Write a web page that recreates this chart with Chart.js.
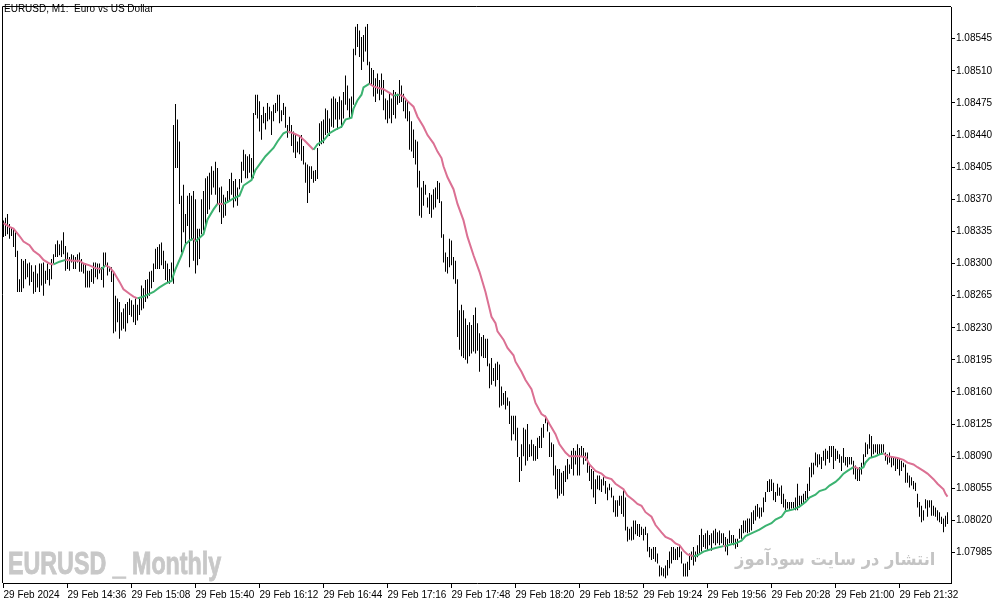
<!DOCTYPE html>
<html><head><meta charset="utf-8">
<script src="https://cdn.jsdelivr.net/npm/chart.js@4"></script>
<style>
html,body{margin:0;padding:0;background:#fff;overflow:hidden}
#wrap{position:relative;width:1003px;height:605px}
canvas{position:absolute;left:0;top:0}
.t{position:absolute;white-space:pre}
#title{left:4px;top:3px;font:10px "Liberation Sans",Arial,sans-serif;color:#000}
#wm1{left:8px;top:546px;font:bold 31px "Liberation Sans",Arial,sans-serif;color:#c8c8c8;-webkit-text-stroke:0.9px #c8c8c8;transform:scaleX(0.75);transform-origin:0 0}
#wm2{right:68px;top:549px;font:bold 17.5px "DejaVu Sans",sans-serif;color:#c4c4c4;transform:scaleX(0.93);transform-origin:100% 0}
</style></head>
<body><div id="wrap"><canvas id="c" width="1003" height="605"></canvas>
<div class="t" id="title">EURUSD, M1:  Euro vs US Dollar</div>
<div class="t" id="wm1">EURUSD _ Monthly</div>
<div class="t" id="wm2" dir="rtl">انتشار در سایت سودآموز</div>
</div>
<script>
// prices kept as points above 1.08000 (1 pt = 0.00001)
const base = 1.08

// M1 bars, one per minute from 14:04
const highPts = [
 347,350,354,343,339,338,334,314,283,305, 303,305,300,301,298,291,298,289,300,300,
 301,292,300,294,305,310,321,325,321,325, 334,319,312,307,310,309,307,310,312,305,
 300,300,292,292,294,301,301,300,300,296, 312,312,301,296,296,291,265,262,258,247,
 251,256,258,262,260,255,262,255,262,276, 273,282,283,291,292,300,316,318,321,323,
 314,303,300,294,301,451,474,457,433,374, 386,354,374,377,374,379,370,338,338,370,
 379,393,395,399,406,401,411,404,383,384, 375,372,379,392,399,390,392,383,392,411,
 424,419,417,419,415,464,484,484,477,462, 471,464,475,471,466,473,475,484,484,467,
 475,471,451,460,451,444,440,433,439,440, 428,410,408,406,406,401,402,426,453,455,
 457,469,467,458,480,482,480,476,482,478, 487,505,494,480,482,534,558,561,554,547,
 549,558,561,520,513,511,502,507,500,507, 500,480,478,485,480,489,487,485,500,494,
 485,478,478,466,455,446,435,433,401,383, 390,386,372,377,375,381,383,390,388,368,
 332,312,307,327,325,307,303,283,249,255, 249,240,233,236,233,244,252,235,224,220,
 222,218,218,191,197,186,191,193,190,166, 159,161,154,150,134,134,134,121,89,103,
 121,119,125,103,108,103,101,110,112,121, 125,134,130,116,105,103,80,76,76,72,
 74,80,87,81,96,99,96,103,99,101, 99,94,94,81,76,74,65,69,69,65,
 67,63,56,60,56,47,42,42,47,47, 53,45,13,11,13,20,20,16,16,13,
 11,13,6,-9,-11,-9,-9,-16,-29,-31, -32,-29,-23,-14,-9,-9,-11,-9,-7,-14,
 -27,-27,-25,-16,-14,-9,-14,-7,4,11, 4,6,9,4,6,9,11,7,9,6,
 6,2,0,9,4,4,0,0,11,15, 20,20,22,22,29,31,36,38,34,34,
 45,51,63,65,65,61,51,60,56,58, 49,43,40,40,40,40,45,60,47,47,
 49,52,60,78,83,83,94,92,92,89, 96,98,96,101,101,101,98,96,92,90,
 99,89,89,89,89,85,80,76,78,83, 92,105,103,114,112,103,103,103,103,103,
 103,94,92,94,89,89,89,87,87,85, 83,81,72,69,67,63,61,49,40,36,
 31,43,42,42,42,36,34,31,29,24, 22,25,29
]
const lowPts = [
 329,330,332,327,330,318,307,269,269,269, 273,283,285,276,280,267,269,274,269,276,
 265,278,282,276,283,300,307,307,309,307, 310,292,294,292,301,294,294,301,291,291,
 289,274,274,274,280,278,285,283,289,282, 274,298,287,291,280,224,226,236,218,227,
 229,226,235,244,242,236,233,238,244,249, 251,258,262,265,273,280,294,294,294,298,
 294,282,280,278,282,278,404,404,365,312, 334,321,341,296,325,303,289,298,305,332,
 336,339,354,359,375,383,375,365,356,343, 350,352,366,368,375,361,368,363,381,388,
 401,393,393,399,390,393,462,458,444,435, 453,446,455,457,440,455,464,466,453,455,
 462,448,437,442,428,421,415,421,419,412, 408,388,366,377,392,388,390,392,428,430,
 431,440,442,439,449,448,457,446,457,448, 458,473,467,458,462,473,527,536,525,511,
 520,531,516,496,494,482,476,485,478,484, 467,457,453,458,453,462,458,473,475,476,
 466,458,455,424,422,415,408,383,352,350, 363,375,361,354,350,359,361,370,366,328,
 301,291,289,296,298,283,278,220,206,199, 197,195,191,199,202,204,202,205,182,199,
 197,197,188,164,168,172,166,173,143,145, 146,141,145,125,107,114,107,89,62,74,
 90,80,85,89,90,85,85,87,99,99, 110,126,117,89,89,69,54,44,47,49,
 47,62,65,71,76,69,81,69,69,90, 81,85,72,63,54,45,38,54,53,51,
 58,49,42,53,45,29,24,24,36,27, 24,9,-3,-1,-2,-1,5,3,2,4,
 -2,4,-14,-20,-23,-22,-25,-27,-41,-40, -41,-43,-40,-32,-27,-23,-23,-23,-20,-27,
 -41,-41,-41,-34,-23,-29,-25,-20,-16,-14, -9,-11,-13,-7,-13,-5,-7,-5,-7,-5,
 -7,-14,-18,-5,-5,-7,-11,-9,0,0, 6,7,6,7,9,16,20,24,22,24,
 29,40,51,51,52,42,40,47,47,38, 34,31,33,31,33,33,31,31,34,36,
 38,42,43,52,67,70,80,78,81,76, 85,80,87,83,89,76,85,87,83,74,
 83,80,78,81,81,70,65,63,63,70, 78,89,92,98,89,92,94,92,92,92,
 94,85,81,83,78,80,74,76,69,74, 78,61,61,56,58,54,52,34,24,18,
 20,33,24,34,25,25,24,20,18,16, 7,13,16
]

// moving average: bar index and value
const maBar = [0,3,5,8,10,13,15,18,20,23,25,28,31,35,38,40,43,46,49,51,53,55,58,60,63,65,67,70,75,78,
 81,84,86,89,91,93,95,96,100,102,105,107,110,112,115,116,118,120,124,126,129,131,135,137,140,142,145,148,151,155,
 157,160,163,166,169,171,174,175,177,179,180,183,185,188,190,193,195,198,200,202,205,207,210,212,215,217,219,220,222,225,
 227,230,232,235,238,241,242,243,244,246,247,250,252,255,256,259,261,264,266,269,271,273,276,278,281,283,286,288,291,293,
 296,299,301,304,306,310,312,315,317,319,321,324,326,329,331,334,336,338,340,342,345,347,350,353,356,360,361,364,366,369,
 371,375,378,381,384,386,389,391,395,398,401,403,406,408,411,413,416,418,420,422,425,426,428,430,431,433,436,438,440,442,
 445,447,450,452,455,457,460,462,465,467,470,471,472]
const maPts = [344,340,338,330,324,320,314,309,304,300,299,302,304,303,303,300,298,295,294,298,296,291,280,272,267,264,262,264,269,274,
 278,281,294,309,321,325,327,324,332,348,359,365,365,367,371,372,374,385,391,402,411,417,426,433,442,444,442,439,433,424,
 430,434,442,446,449,457,459,469,478,484,492,496,493,491,490,486,483,484,482,477,471,460,449,440,431,422,415,406,394,381,
 365,347,329,309,291,269,260,251,242,235,226,217,208,200,193,182,173,163,148,136,133,125,114,103,94,90,90,90,89,81,
 74,71,67,65,60,54,47,42,38,36,29,24,15,7,2,-1,-5,-7,-13,-17,-19,-18,-14,-12,-10,-8,-8,-6,-5,-2,
 3,7,10,14,17,21,24,30,32,35,40,45,48,52,54,58,62,66,71,74,78,78,76,78,83,88,90,92,93,90,
 89,88,86,83,81,78,74,71,65,60,54,49,46]

const tickBar = [0,32,64,96,128,160,192,224,256,288,320,352,384,416,448]
const tickLabels = ['29 Feb 2024','29 Feb 14:36','29 Feb 15:08','29 Feb 15:40','29 Feb 16:12','29 Feb 16:44','29 Feb 17:16',
 '29 Feb 17:48','29 Feb 18:20','29 Feb 18:52','29 Feb 19:24','29 Feb 19:56','29 Feb 20:28','29 Feb 21:00','29 Feb 21:32']
const priceTicks = ['1.07985','1.08020','1.08055','1.08090','1.08125','1.08160','1.08195','1.08230','1.08265',
 '1.08300','1.08335','1.08370','1.08405','1.08440','1.08475','1.08510','1.08545']

const UP = '#3cb371', DOWN = '#db7093'
const price = p => base + p/100000
const axisFont = {family:'"Liberation Sans", Arial, sans-serif', size:10}

const frame = {
  id:'frame',
  afterDraw(ch){
    const a = ch.chartArea, c = ch.ctx
    c.save()
    c.strokeStyle = '#000'
    c.lineWidth = 1
    c.beginPath()
    c.moveTo(a.left-0.5, a.bottom)
    c.lineTo(a.left-0.5, a.top-0.5)
    c.lineTo(a.right, a.top-0.5)
    c.stroke()
    c.restore()
  }
}

new Chart(document.getElementById('c'),{
  type:'bar',
  data:{datasets:[
    {type:'line', data:maBar.map((b,k)=>({x:b, y:price(maPts[k])})), borderWidth:2, pointRadius:0, tension:0,
     borderColor:DOWN, segment:{borderColor:s=>s.p1.parsed.y>s.p0.parsed.y?UP:DOWN}, order:0},
    {type:'bar', data:highPts.map((h,i)=>({x:i, y:[price(lowPts[i]), price(h)]})), backgroundColor:'#000',
     borderWidth:0, inflateAmount:0, barThickness:1, order:1}
  ]},
  options:{
    responsive:false, animation:false, devicePixelRatio:1,
    layout:{padding:{left:3, top:3, right:0, bottom:0}},
    plugins:{legend:{display:false}, tooltip:{enabled:false}},
    scales:{
      x:{type:'linear', min:-0.25, max:473.75, offset:false,
        grid:{drawOnChartArea:false, offset:false, tickLength:5, color:'#000'},
        border:{color:'#000'},
        afterBuildTicks:s=>{s.ticks = tickBar.map(v=>({value:v}))},
        afterFit:s=>{s.height = 22},
        ticks:{align:'start', padding:1, color:'#000', font:axisFont, autoSkip:false, maxRotation:0,
          callback:v=>tickLabels[tickBar.indexOf(v)]}},
      y:{position:'right', min:price(-48.2), max:price(579.6),
        grid:{drawOnChartArea:false, tickLength:4, color:'#000'},
        border:{color:'#000'},
        afterBuildTicks:s=>{s.ticks = priceTicks.map(v=>({value:+v}))},
        afterFit:s=>{s.width = 52},
        ticks:{padding:1, color:'#000', font:axisFont, callback:v=>v.toFixed(5)}}
    }
  },
  plugins:[frame]
})
</script>
</body></html>
